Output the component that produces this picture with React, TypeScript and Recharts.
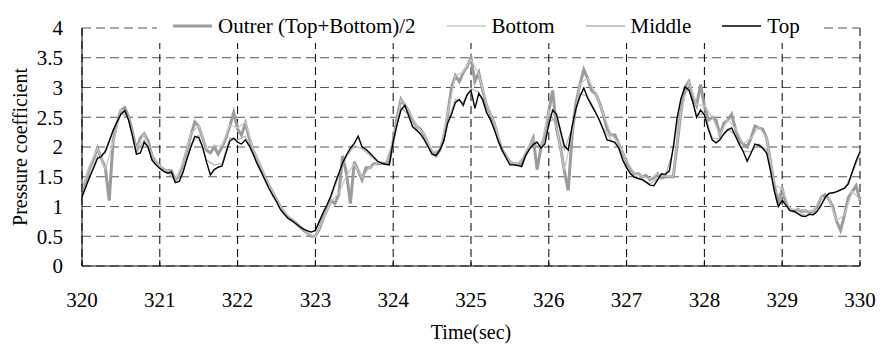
import { LineChart, Line, XAxis, YAxis, CartesianGrid, Legend, Label } from "recharts";

// sampling grid of the traces (seconds)
const T_START = 320;
const FINE_STEP = 0.05;
const COARSE_STEP = 0.1;

const X_TICKS = [320, 321, 322, 323, 324, 325, 326, 327, 328, 329, 330];
const Y_TICKS = [0, 0.5, 1, 1.5, 2, 2.5, 3, 3.5, 4];

// Top, 0.05 s step
const TOP = [
  1.16, 1.33, 1.5, 1.65, 1.81, 1.84, 1.93, 2.1, 2.28, 2.42,
  2.55, 2.61, 2.45, 2.18, 1.88, 1.9, 2.08, 2.0, 1.78, 1.7,
  1.64, 1.59, 1.56, 1.58, 1.4, 1.42, 1.58, 1.8, 2.0, 2.18,
  2.16, 2.0, 1.75, 1.53, 1.62, 1.66, 1.68, 1.9, 2.1, 2.15,
  2.08, 2.05, 2.12, 2.02, 1.88, 1.72, 1.59, 1.45, 1.31, 1.19,
  1.08, 0.95, 0.87, 0.8, 0.76, 0.71, 0.66, 0.62, 0.59, 0.57,
  0.6, 0.75, 0.9, 1.03, 1.18, 1.38, 1.55, 1.73, 1.87, 1.98,
  2.06, 2.18, 2.0, 1.96, 1.9, 1.83, 1.76, 1.73, 1.71, 1.7,
  2.1, 2.38, 2.62, 2.7, 2.52, 2.34, 2.28, 2.22, 2.12, 2.0,
  1.88, 1.86, 1.95, 2.1, 2.4, 2.55, 2.75, 2.8, 2.7, 2.88,
  2.95, 2.65, 2.9, 2.8, 2.58, 2.46, 2.29, 2.1, 1.95, 1.82,
  1.7, 1.7, 1.69, 1.67, 1.85, 1.96, 2.04, 2.08, 1.98, 2.05,
  2.38, 2.62, 2.55, 2.28, 2.02, 1.95, 2.35, 2.65, 2.85, 2.99,
  2.82, 2.7, 2.58, 2.45, 2.29, 2.12, 2.1, 2.08, 1.98, 1.78,
  1.65, 1.55, 1.49, 1.47, 1.45, 1.41, 1.36, 1.35, 1.45, 1.55,
  1.54, 1.6, 2.0, 2.5, 2.82, 3.01, 2.96, 2.76, 2.5, 2.62,
  2.54, 2.3, 2.12, 2.07, 2.12, 2.22, 2.29, 2.32, 2.18, 2.04,
  1.92, 1.76, 1.9, 2.05, 2.03, 1.98, 1.9, 1.6, 1.25, 1.0,
  1.1, 1.02, 0.93, 0.92, 0.88, 0.84, 0.83, 0.87, 0.86, 0.92,
  1.02, 1.15, 1.22, 1.23, 1.25, 1.28, 1.31, 1.38, 1.58, 1.77,
  1.92,
];

// Outer (Top+Bottom)/2, 0.05 s step
const OUTER = [
  1.25, 1.45, 1.65, 1.8, 1.98, 1.8, 1.65, 1.1, 2.1, 2.4,
  2.62, 2.66, 2.5, 2.25, 1.95, 2.15, 2.22, 2.1, 1.85, 1.75,
  1.68, 1.62, 1.6, 1.6, 1.45, 1.5, 1.72, 1.95, 2.2, 2.42,
  2.35, 2.15, 1.95, 1.9, 2.0, 1.88, 2.0, 2.15, 2.35, 2.58,
  2.3, 2.2, 2.4, 2.15, 1.95, 1.8, 1.65, 1.5, 1.36, 1.24,
  1.12, 1.0, 0.9, 0.82, 0.78, 0.72, 0.66, 0.6, 0.55, 0.5,
  0.5, 0.62, 0.8, 0.95, 1.1, 1.05, 1.2, 1.85, 1.55, 1.05,
  1.75, 1.6, 1.45, 1.65, 1.65, 1.72, 1.72, 1.73, 1.72, 1.75,
  2.1, 2.5, 2.8, 2.7, 2.6, 2.45, 2.35, 2.3, 2.2, 2.05,
  1.9, 1.85, 1.95, 2.15, 2.55, 3.0, 3.2, 3.1, 3.25, 3.35,
  3.5, 3.1, 3.25, 2.95, 2.7, 2.55, 2.4, 2.15, 1.95, 1.85,
  1.75, 1.72, 1.72, 1.7, 1.88, 2.0, 2.15, 1.62, 2.0, 2.2,
  2.6, 2.95, 2.3, 2.0, 1.6, 1.27, 2.2, 2.75, 3.05, 3.3,
  3.15, 2.95, 2.9, 2.75, 2.55, 2.3, 2.2, 2.2, 2.05, 1.9,
  1.75, 1.62, 1.55, 1.55, 1.5, 1.52, 1.45, 1.48, 1.55, 1.48,
  1.5, 1.5, 1.5, 2.05, 2.6, 3.0, 3.1, 2.85, 2.7, 3.05,
  2.7, 2.45, 2.5, 2.45, 2.2, 2.4, 2.45, 2.55, 2.3, 2.1,
  2.05, 2.0, 2.15, 2.35, 2.32, 2.3, 2.15, 1.75, 1.35, 1.05,
  1.3, 1.05, 0.95, 0.92, 0.95, 0.92, 0.93, 0.9, 0.92, 1.0,
  1.15, 1.2, 1.12, 1.0, 0.75, 0.6, 0.85, 1.15, 1.25, 1.35,
  1.1,
];

// Bottom, 0.1 s step
const BOTTOM = [
  1.28, 1.68, 1.98, 1.62, 2.08, 2.63, 2.5, 1.97, 2.22, 1.86,
  1.68, 1.61, 1.46, 1.73, 2.22, 2.36, 1.97, 2.02, 2.02, 2.37,
  2.32, 2.42, 1.97, 1.67, 1.37, 1.13, 0.91, 0.79, 0.67, 0.55,
  0.49, 0.79, 1.09, 1.22, 1.52, 1.72, 1.48, 1.66, 1.73, 1.72,
  2.11, 2.8, 2.61, 2.36, 2.21, 1.91, 1.96, 2.57, 3.2, 3.26,
  3.47, 3.23, 2.71, 2.41, 1.96, 1.75, 1.72, 1.89, 2.13, 2.01,
  2.61, 2.32, 1.61, 2.22, 3.06, 3.16, 2.91, 2.56, 2.21, 2.06,
  1.76, 1.56, 1.51, 1.46, 1.55, 1.51, 1.51, 2.61, 3.1, 2.71,
  2.7, 2.5, 2.21, 2.46, 2.31, 2.06, 2.15, 2.34, 2.15, 1.36,
  1.3, 0.96, 0.95, 0.93, 0.92, 1.16, 1.13, 0.76, 0.86, 1.26,
  1.11,
];

// Middle, 0.1 s step
const MIDDLE = [
  1.2, 1.52, 1.85, 1.9, 2.25, 2.58, 2.47, 1.9, 2.12, 1.8,
  1.66, 1.58, 1.42, 1.62, 2.05, 2.2, 1.78, 1.7, 1.72, 2.15,
  2.12, 2.18, 1.9, 1.61, 1.33, 1.1, 0.88, 0.77, 0.66, 0.58,
  0.58, 0.88, 1.15, 1.52, 1.84, 2.02, 1.97, 1.86, 1.75, 1.71,
  2.08, 2.66, 2.54, 2.3, 2.14, 1.88, 1.95, 2.42, 2.8, 2.75,
  2.98, 2.92, 2.6, 2.31, 1.95, 1.71, 1.7, 1.86, 2.05, 2.0,
  2.42, 2.5, 1.95, 2.32, 2.9, 2.85, 2.6, 2.32, 2.12, 1.99,
  1.67, 1.5, 1.46, 1.38, 1.47, 1.53, 1.95, 2.8, 2.98, 2.52,
  2.57, 2.15, 2.13, 2.3, 2.2, 1.93, 1.92, 2.05, 1.95, 1.27,
  1.12, 0.94, 0.9, 0.85, 0.88, 1.04, 1.21, 1.24, 1.3, 1.56,
  1.88,
];

const SERIES = [
  { name: "Outrer (Top+Bottom)/2", values: OUTER, step: FINE_STEP, color: "#9b9b9b", width: 3 },
  { name: "Bottom", values: BOTTOM, step: COARSE_STEP, color: "#c6c6c6", width: 1.2 },
  { name: "Middle", values: MIDDLE, step: COARSE_STEP, color: "#b0b0b0", width: 1.2 },
  { name: "Top", values: TOP, step: FINE_STEP, color: "#000000", width: 1.4 },
];

const toRows = (values: number[], step: number) =>
  values.map((v, i) => ({ t: +(T_START + i * step).toFixed(2), v }));

const FONT = "'Liberation Serif', 'Times New Roman', serif";

const XTick = (props: any) => {
  const { x, y, payload } = props;
  return (
    <g>
      <line x1={x} x2={x} y1={y} y2={y - 6} stroke="#000" strokeWidth={1} />
      <text x={x} y={y + 41} textAnchor="middle" fontSize={21} fill="#000" fontFamily={FONT}>
        {payload.value}
      </text>
    </g>
  );
};

const renderLegend = () => (
  <div
    style={{
      display: "flex",
      alignItems: "center",
      height: "100%",
      paddingLeft: 16,
      fontFamily: FONT,
      fontSize: 21,
      color: "#000",
      whiteSpace: "nowrap",
    }}
  >
    {SERIES.map((s) => (
      <div key={s.name} style={{ display: "flex", alignItems: "center", marginRight: 31 }}>
        <svg width={39} height={10} style={{ marginRight: 6 }}>
          <line x1={0} x2={39} y1={5} y2={5} stroke={s.color} strokeWidth={s.width === 3 ? 3 : 1.5} />
        </svg>
        <span>{s.name}</span>
      </div>
    ))}
  </div>
);

export default function App() {
  return (
    <div style={{ position: "absolute", left: 0, top: 0, background: "#fff" }}>
      <LineChart
        width={887}
        height={349}
        margin={{ top: 28, right: 27, bottom: 0, left: 0 }}
        style={{ fontFamily: FONT }}
      >
        <CartesianGrid vertical={false} stroke="#555" strokeDasharray="9 5" />
        <CartesianGrid horizontal={false} stroke="#000" strokeDasharray="8 5" />
        <XAxis
          dataKey="t"
          type="number"
          domain={[320, 330]}
          ticks={X_TICKS}
          allowDuplicatedCategory={false}
          stroke="#000"
          tickLine={false}
          tickSize={0}
          tickMargin={0}
          tick={<XTick />}
          height={83}
          interval={0}
        >
          <Label
            content={(p: any) => {
              const vb = p.viewBox || {};
              return (
                <text x={vb.x + vb.width / 2} y={339} textAnchor="middle" fontSize={20} fill="#000" fontFamily={FONT}>
                  Time(sec)
                </text>
              );
            }}
          />
        </XAxis>
        <YAxis
          type="number"
          domain={[0, 4]}
          ticks={Y_TICKS}
          stroke="#000"
          tickLine={false}
          tickSize={0}
          tickMargin={19}
          width={82}
          interval={0}
          tick={{ fill: "#000", fontSize: 21, fontFamily: FONT }}
        >
          <Label
            content={(p: any) => {
              const vb = p.viewBox || {};
              const cy = vb.y + vb.height / 2;
              return (
                <text
                  transform={`translate(27, ${cy}) rotate(-90)`}
                  textAnchor="middle"
                  fontSize={20}
                  fill="#000"
                  fontFamily={FONT}
                >
                  Pressure coefficient
                </text>
              );
            }}
          />
        </YAxis>
        <Legend
          layout="horizontal"
          verticalAlign="middle"
          align="center"
          content={renderLegend}
          wrapperStyle={{ top: 9, left: 157, width: 662, height: 34, background: "#fff" }}
        />
        {SERIES.map((s) => (
          <Line
            key={s.name}
            name={s.name}
            data={toRows(s.values, s.step)}
            dataKey="v"
            type="linear"
            stroke={s.color}
            strokeWidth={s.width}
            dot={false}
            activeDot={false}
            isAnimationActive={false}
          />
        ))}
      </LineChart>
    </div>
  );
}
